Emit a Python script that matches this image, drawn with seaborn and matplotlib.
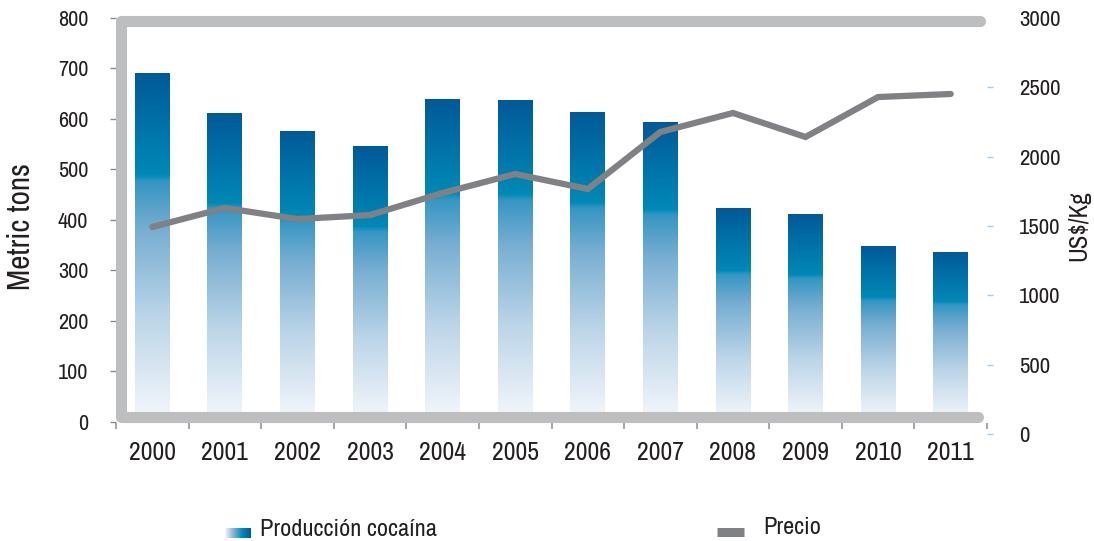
import numpy as np
import pandas as pd
import matplotlib
matplotlib.use("Agg")
import matplotlib.pyplot as plt
from matplotlib.colors import LinearSegmentedColormap
from matplotlib.lines import Line2D
import seaborn as sns

# data
years = ["2000", "2001", "2002", "2003", "2004", "2005",
         "2006", "2007", "2008", "2009", "2010", "2011"]
production = [690, 610, 576, 545, 638, 636, 613, 594, 423, 410, 348, 336]
price = [1493, 1630, 1550, 1579, 1738, 1875, 1767, 2178, 2315, 2142, 2430, 2452]
left_ticks = [0, 100, 200, 300, 400, 500, 600, 700, 800]
right_ticks = [0, 500, 1000, 1500, 2000, 2500, 3000]

df = pd.DataFrame({"year": years, "production": production, "price": price})

sns.set_style("white")
plt.rcParams["font.family"] = ["Archivo Narrow", "DejaVu Sans"]

W, H = 1094, 541
fig = plt.figure(figsize=(W / 100, H / 100), dpi=100)

def box(x0, x1, ytop, ybot):
    return [x0 / W, 1 - ybot / H, (x1 - x0) / W, (ybot - ytop) / H]

ax = fig.add_axes(box(116, 987, 18, 423))
ax2 = fig.add_axes(box(116, 987, 18, 434), sharex=ax)
ax2.patch.set_visible(False)

text_col = "#231F20"
grad = LinearSegmentedColormap.from_list("bar", [
    (0.0, "#F6F8FC"), (0.3, "#BCD5E8"), (0.55, "#78AED2"),
    (0.69, "#3596C3"), (0.71, "#0089B6"), (1.0, "#005A98")])

# bars: draw with seaborn, then fill each with a vertical gradient
sns.barplot(data=df, x="year", y="production", ax=ax, width=0.48,
            color="#0089B6", saturation=1)
g = np.linspace(0, 1, 256).reshape(-1, 1)
for p in ax.patches:
    x0, w, h = p.get_x(), p.get_width(), p.get_height()
    p.set_facecolor("none")
    p.set_edgecolor("none")
    ax.imshow(g, extent=(x0, x0 + w, 0, h), origin="lower", aspect="auto",
              cmap=grad, zorder=2)

ax.set_xlim(-0.5, len(years) - 0.5)
ax.set_ylim(-2, 800)
ax.set_yticks(left_ticks)
ax.set_xlabel("")
ax.set_ylabel("Metric tons", fontsize=22.5, color=text_col)
ax.yaxis.set_label_coords(-0.093, 0.486)
ax.tick_params(axis="y", length=4, width=1, color="#8A8C8E", pad=16,
               labelsize=16, labelcolor=text_col, left=True)
ax.tick_params(axis="x", which="major", length=0, pad=13, labelsize=18.5,
               labelcolor=text_col)
ax.set_xticks(np.arange(-0.5, len(years)), minor=True)
ax.tick_params(axis="x", which="minor", length=4, width=1.5,
               color="#A7A9AC", bottom=True)
for s in ax.spines.values():
    s.set_visible(False)

# price line on the right axis
sns.lineplot(x=np.arange(len(years)), y=price, ax=ax2, color="#808184",
             linewidth=4.5, solid_joinstyle="miter")
ax2.set_xlim(-0.5, len(years) - 0.5)
ax2.set_ylim(0, 3000)
ax2.set_yticks(right_ticks)
ax2.yaxis.tick_right()
ax2.yaxis.set_label_position("right")
ax2.set_ylabel("US$/Kg", fontsize=18, color=text_col)
ax2.yaxis.set_label_coords(1.092, 0.5)
ax2.tick_params(axis="y", length=4, width=1, color="#A8CBE3", pad=19,
                labelsize=16.5, labelcolor=text_col, right=True, left=False)
ax2.tick_params(axis="x", bottom=False, labelbottom=False)
ax2.yaxis.get_major_ticks()[-1].tick2line.set_visible(False)
for s in ax2.spines.values():
    s.set_visible(False)

# grey rounded frame
fx = np.array([980, 121, 121, 978])
fy = np.array([20.5, 20.5, 417, 417])
fig.add_artist(Line2D(fx / W, 1 - fy / H, transform=fig.transFigure,
                      color="#BCBEC0", linewidth=8, solid_capstyle="round",
                      solid_joinstyle="round", zorder=5))

# legend
lax = fig.add_axes(box(225, 251, 528, 538))
lax.imshow(np.linspace(0, 1, 128).reshape(1, -1), aspect="auto",
           cmap=LinearSegmentedColormap.from_list("leg", ["#F6F8FC", "#7FB2D4", "#0089B6", "#005A98"]))
lax.axis("off")
fig.text(260 / W, 1 - 529 / H, "Producción cocaína", fontsize=17.5,
         color=text_col, va="center", ha="left")
fig.add_artist(Line2D([717 / W, 744 / W], [1 - 531.5 / H] * 2,
                      transform=fig.transFigure, color="#808184",
                      linewidth=6.5, solid_capstyle="butt"))
fig.text(763 / W, 1 - 527 / H, "Precio", fontsize=17.5, color=text_col,
         va="center", ha="left")

fig.savefig("out.png", dpi=100)
